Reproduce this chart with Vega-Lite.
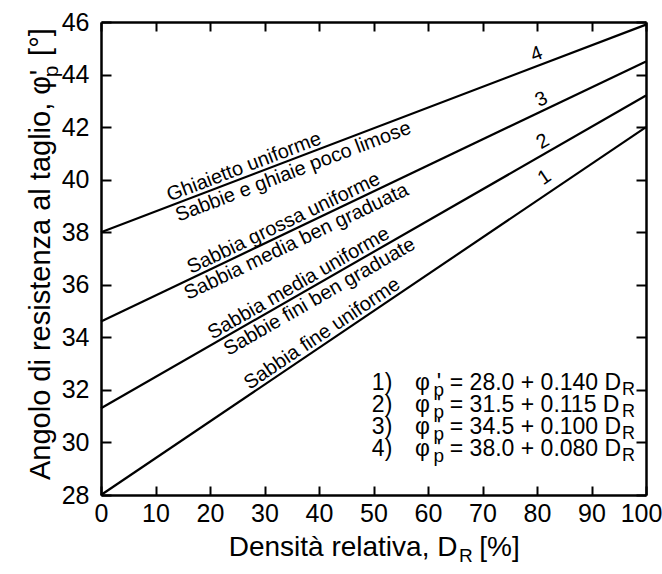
{
  "$schema": "https://vega.github.io/schema/vega-lite/v6.json",
  "width": 545,
  "height": 473,
  "autosize": {"type": "none"},
  "padding": {"left": 101, "top": 22, "right": 16, "bottom": 79},
  "background": "white",
  "view": {"stroke": null},
  "config": {"font": "Liberation Sans", "text": {"font": "Liberation Sans", "color": "black"}},
  "datasets": {
    "lines": [
      {"line": 1, "x": 0, "y": 28.0}, {"line": 1, "x": 100, "y": 42.0},
      {"line": 2, "x": 0, "y": 31.3}, {"line": 2, "x": 100, "y": 43.2},
      {"line": 3, "x": 0, "y": 34.6}, {"line": 3, "x": 100, "y": 44.5},
      {"line": 4, "x": 0, "y": 38.0}, {"line": 4, "x": 100, "y": 45.9}
    ],
    "labels": [
      {"line": 4, "side": "above", "x": 26.9, "y": 40.13, "text": "Ghiaietto uniforme"},
      {"line": 4, "side": "above", "x": 80.55, "y": 44.42, "text": "4"},
      {"line": 4, "side": "below", "x": 34.5, "y": 40.73, "text": "Sabbie e ghiaie poco limose"},
      {"line": 3, "side": "above", "x": 34.3, "y": 38.0, "text": "Sabbia grossa uniforme"},
      {"line": 3, "side": "above", "x": 81.6, "y": 42.71, "text": "3"},
      {"line": 3, "side": "below", "x": 34.9, "y": 38.055, "text": "Sabbia media ben graduata"},
      {"line": 2, "side": "above", "x": 37.2, "y": 35.727, "text": "Sabbia media uniforme"},
      {"line": 2, "side": "above", "x": 82.0, "y": 41.12, "text": "2"},
      {"line": 2, "side": "below", "x": 39.0, "y": 35.941, "text": "Sabbie fini ben graduate"},
      {"line": 1, "side": "above", "x": 41.6, "y": 33.824, "text": "Sabbia fine uniforme"},
      {"line": 1, "side": "above", "x": 82.4, "y": 39.77, "text": "1"}
    ],
    "eqs": [
      {"row": 1, "y": 32.0, "num": "1)", "eq": "= 28.0 + 0.140 D"},
      {"row": 2, "y": 31.16, "num": "2)", "eq": "= 31.5 + 0.115 D"},
      {"row": 3, "y": 30.32, "num": "3)", "eq": "= 34.5 + 0.100 D"},
      {"row": 4, "y": 29.49, "num": "4)", "eq": "= 38.0 + 0.080 D"}
    ]
  },
  "resolve": {"axis": {"x": "independent", "y": "independent"}},
  "layer": [
    {
      "data": {"name": "lines"},
      "mark": {"type": "line", "color": "black", "strokeWidth": 2.2},
      "encoding": {
        "x": {"field": "x", "type": "quantitative", "scale": {"domain": [0, 100], "nice": false, "zero": false},
          "axis": {"orient": "bottom", "values": [0, 10, 20, 30, 40, 50, 60, 70, 80, 90, 100], "tickSize": -9, "tickWidth": 2, "tickColor": "black", "domainColor": "black", "domainWidth": 2.5, "labelFont": "Liberation Sans", "labelFontSize": 25, "labelColor": "black", "labelPadding": 15, "labelFlush": false, "labelOverlap": false, "labelOffset": {"condition": {"test": "datum.value === 100", "value": -5}, "value": 0}, "grid": false, "title": null}},
        "y": {"field": "y", "type": "quantitative", "scale": {"domain": [28, 46], "nice": false, "zero": false},
          "axis": {"orient": "left", "values": [28, 30, 32, 34, 36, 38, 40, 42, 44, 46], "tickSize": -10, "tickWidth": 2, "tickColor": "black", "domainColor": "black", "domainWidth": 2.5, "labelFont": "Liberation Sans", "labelFontSize": 25, "labelColor": "black", "labelPadding": 22, "labelFlush": false, "labelOverlap": false, "grid": false, "title": null}},
        "detail": {"field": "line", "type": "nominal"}
      }
    },
    {
      "data": {"name": "lines"},
      "mark": {"type": "line", "color": "black", "strokeOpacity": 0},
      "encoding": {
        "x": {"field": "x", "type": "quantitative", "scale": {"domain": [0, 100], "nice": false, "zero": false},
          "axis": {"orient": "top", "values": [0, 10, 20, 30, 40, 50, 60, 70, 80, 90, 100], "tickSize": -9, "tickWidth": 2, "tickColor": "black", "domainColor": "black", "domainWidth": 2.5, "labels": false, "grid": false, "title": null}},
        "y": {"field": "y", "type": "quantitative", "scale": {"domain": [28, 46], "nice": false, "zero": false},
          "axis": {"orient": "right", "values": [28, 30, 32, 34, 36, 38, 40, 42, 44, 46], "tickSize": -10, "tickWidth": 2, "tickColor": "black", "domainColor": "black", "domainWidth": 2.5, "labels": false, "grid": false, "title": null}},
        "detail": {"field": "line", "type": "nominal"}
      }
    },
    {
      "data": {"name": "labels"},
      "transform": [{"filter": "datum.line === 4 && datum.side === 'above'"}],
      "mark": {"type": "text", "angle": 339.15, "align": "center", "baseline": "alphabetic", "dy": -4, "fontSize": 20},
      "encoding": {
        "x": {"field": "x", "type": "quantitative", "scale": {"domain": [0, 100], "nice": false, "zero": false}, "axis": null},
        "y": {"field": "y", "type": "quantitative", "scale": {"domain": [28, 46], "nice": false, "zero": false}, "axis": null},
        "text": {"field": "text"}
      }
    },
    {
      "data": {"name": "labels"},
      "transform": [{"filter": "datum.line === 4 && datum.side === 'below'"}],
      "mark": {"type": "text", "angle": 339.15, "align": "center", "baseline": "top", "dy": 2, "fontSize": 20},
      "encoding": {
        "x": {"field": "x", "type": "quantitative", "scale": {"domain": [0, 100], "nice": false, "zero": false}, "axis": null},
        "y": {"field": "y", "type": "quantitative", "scale": {"domain": [28, 46], "nice": false, "zero": false}, "axis": null},
        "text": {"field": "text"}
      }
    },
    {
      "data": {"name": "labels"},
      "transform": [{"filter": "datum.line === 3 && datum.side === 'above'"}],
      "mark": {"type": "text", "angle": 334.5, "align": "center", "baseline": "alphabetic", "dy": -4, "fontSize": 20},
      "encoding": {
        "x": {"field": "x", "type": "quantitative", "scale": {"domain": [0, 100], "nice": false, "zero": false}, "axis": null},
        "y": {"field": "y", "type": "quantitative", "scale": {"domain": [28, 46], "nice": false, "zero": false}, "axis": null},
        "text": {"field": "text"}
      }
    },
    {
      "data": {"name": "labels"},
      "transform": [{"filter": "datum.line === 3 && datum.side === 'below'"}],
      "mark": {"type": "text", "angle": 334.5, "align": "center", "baseline": "top", "dy": 2, "fontSize": 20},
      "encoding": {
        "x": {"field": "x", "type": "quantitative", "scale": {"domain": [0, 100], "nice": false, "zero": false}, "axis": null},
        "y": {"field": "y", "type": "quantitative", "scale": {"domain": [28, 46], "nice": false, "zero": false}, "axis": null},
        "text": {"field": "text"}
      }
    },
    {
      "data": {"name": "labels"},
      "transform": [{"filter": "datum.line === 2 && datum.side === 'above'"}],
      "mark": {"type": "text", "angle": 330.15, "align": "center", "baseline": "alphabetic", "dy": -4, "fontSize": 20},
      "encoding": {
        "x": {"field": "x", "type": "quantitative", "scale": {"domain": [0, 100], "nice": false, "zero": false}, "axis": null},
        "y": {"field": "y", "type": "quantitative", "scale": {"domain": [28, 46], "nice": false, "zero": false}, "axis": null},
        "text": {"field": "text"}
      }
    },
    {
      "data": {"name": "labels"},
      "transform": [{"filter": "datum.line === 2 && datum.side === 'below'"}],
      "mark": {"type": "text", "angle": 330.15, "align": "center", "baseline": "top", "dy": 2, "fontSize": 20},
      "encoding": {
        "x": {"field": "x", "type": "quantitative", "scale": {"domain": [0, 100], "nice": false, "zero": false}, "axis": null},
        "y": {"field": "y", "type": "quantitative", "scale": {"domain": [28, 46], "nice": false, "zero": false}, "axis": null},
        "text": {"field": "text"}
      }
    },
    {
      "data": {"name": "labels"},
      "transform": [{"filter": "datum.line === 1 && datum.side === 'above'"}],
      "mark": {"type": "text", "angle": 326, "align": "center", "baseline": "alphabetic", "dy": -4, "fontSize": 20},
      "encoding": {
        "x": {"field": "x", "type": "quantitative", "scale": {"domain": [0, 100], "nice": false, "zero": false}, "axis": null},
        "y": {"field": "y", "type": "quantitative", "scale": {"domain": [28, 46], "nice": false, "zero": false}, "axis": null},
        "text": {"field": "text"}
      }
    },
    {
      "data": {"name": "eqs"},
      "mark": {"type": "text", "align": "left", "baseline": "alphabetic", "fontSize": 23},
      "encoding": {
        "x": {"datum": 49.7, "type": "quantitative", "scale": {"domain": [0, 100], "nice": false, "zero": false}, "axis": null},
        "y": {"field": "y", "type": "quantitative", "scale": {"domain": [28, 46], "nice": false, "zero": false}, "axis": null},
        "text": {"field": "num"}
      }
    },
    {
      "data": {"name": "eqs"},
      "mark": {"type": "text", "align": "left", "baseline": "alphabetic", "fontSize": 23, "text": "φ"},
      "encoding": {
        "x": {"datum": 57.6, "type": "quantitative", "scale": {"domain": [0, 100], "nice": false, "zero": false}, "axis": null},
        "y": {"field": "y", "type": "quantitative", "scale": {"domain": [28, 46], "nice": false, "zero": false}, "axis": null}
      }
    },
    {
      "data": {"name": "eqs"},
      "mark": {"type": "text", "align": "left", "baseline": "alphabetic", "fontSize": 23, "text": "'"},
      "encoding": {
        "x": {"datum": 61.6, "type": "quantitative", "scale": {"domain": [0, 100], "nice": false, "zero": false}, "axis": null},
        "y": {"field": "y", "type": "quantitative", "scale": {"domain": [28, 46], "nice": false, "zero": false}, "axis": null}
      }
    },
    {
      "data": {"name": "eqs"},
      "mark": {"type": "text", "align": "left", "baseline": "alphabetic", "fontSize": 19, "dy": 6, "text": "p"},
      "encoding": {
        "x": {"datum": 61.0, "type": "quantitative", "scale": {"domain": [0, 100], "nice": false, "zero": false}, "axis": null},
        "y": {"field": "y", "type": "quantitative", "scale": {"domain": [28, 46], "nice": false, "zero": false}, "axis": null}
      }
    },
    {
      "data": {"name": "eqs"},
      "mark": {"type": "text", "align": "left", "baseline": "alphabetic", "fontSize": 23},
      "encoding": {
        "x": {"datum": 64.0, "type": "quantitative", "scale": {"domain": [0, 100], "nice": false, "zero": false}, "axis": null},
        "y": {"field": "y", "type": "quantitative", "scale": {"domain": [28, 46], "nice": false, "zero": false}, "axis": null},
        "text": {"field": "eq"}
      }
    },
    {
      "data": {"name": "eqs"},
      "mark": {"type": "text", "align": "left", "baseline": "alphabetic", "fontSize": 18, "dy": 5, "text": "R"},
      "encoding": {
        "x": {"datum": 95.6, "type": "quantitative", "scale": {"domain": [0, 100], "nice": false, "zero": false}, "axis": null},
        "y": {"field": "y", "type": "quantitative", "scale": {"domain": [28, 46], "nice": false, "zero": false}, "axis": null}
      }
    },
    {
      "data": {"values": [{}]},
      "mark": {"type": "text", "align": "right", "baseline": "alphabetic", "fontSize": 28, "dy": 61, "text": "Densità relativa, D"},
      "encoding": {
        "x": {"datum": 65.4, "type": "quantitative", "scale": {"domain": [0, 100], "nice": false, "zero": false}, "axis": null},
        "y": {"datum": 28, "type": "quantitative", "scale": {"domain": [28, 46], "nice": false, "zero": false}, "axis": null}
      }
    },
    {
      "data": {"values": [{}]},
      "mark": {"type": "text", "align": "left", "baseline": "alphabetic", "fontSize": 19, "dy": 67, "text": "R"},
      "encoding": {
        "x": {"datum": 65.7, "type": "quantitative", "scale": {"domain": [0, 100], "nice": false, "zero": false}, "axis": null},
        "y": {"datum": 28, "type": "quantitative", "scale": {"domain": [28, 46], "nice": false, "zero": false}, "axis": null}
      }
    },
    {
      "data": {"values": [{}]},
      "mark": {"type": "text", "align": "left", "baseline": "alphabetic", "fontSize": 28, "dy": 61, "text": "[%]"},
      "encoding": {
        "x": {"datum": 69.4, "type": "quantitative", "scale": {"domain": [0, 100], "nice": false, "zero": false}, "axis": null},
        "y": {"datum": 28, "type": "quantitative", "scale": {"domain": [28, 46], "nice": false, "zero": false}, "axis": null}
      }
    },
    {
      "data": {"values": [{}]},
      "mark": {"type": "text", "align": "left", "baseline": "alphabetic", "fontSize": 29, "angle": 270, "dy": -51, "text": "Angolo di resistenza al taglio, φ"},
      "encoding": {
        "x": {"datum": 0, "type": "quantitative", "scale": {"domain": [0, 100], "nice": false, "zero": false}, "axis": null},
        "y": {"datum": 28.57, "type": "quantitative", "scale": {"domain": [28, 46], "nice": false, "zero": false}, "axis": null}
      }
    },
    {
      "data": {"values": [{}]},
      "mark": {"type": "text", "align": "left", "baseline": "alphabetic", "fontSize": 29, "angle": 270, "dy": -51, "text": "'"},
      "encoding": {
        "x": {"datum": 0, "type": "quantitative", "scale": {"domain": [0, 100], "nice": false, "zero": false}, "axis": null},
        "y": {"datum": 43.97, "type": "quantitative", "scale": {"domain": [28, 46], "nice": false, "zero": false}, "axis": null}
      }
    },
    {
      "data": {"values": [{}]},
      "mark": {"type": "text", "align": "left", "baseline": "alphabetic", "fontSize": 21, "angle": 270, "dy": -43, "text": "p"},
      "encoding": {
        "x": {"datum": 0, "type": "quantitative", "scale": {"domain": [0, 100], "nice": false, "zero": false}, "axis": null},
        "y": {"datum": 43.9, "type": "quantitative", "scale": {"domain": [28, 46], "nice": false, "zero": false}, "axis": null}
      }
    },
    {
      "data": {"values": [{}]},
      "mark": {"type": "text", "align": "left", "baseline": "alphabetic", "fontSize": 29, "angle": 270, "dy": -51, "text": "[°]"},
      "encoding": {
        "x": {"datum": 0, "type": "quantitative", "scale": {"domain": [0, 100], "nice": false, "zero": false}, "axis": null},
        "y": {"datum": 44.71, "type": "quantitative", "scale": {"domain": [28, 46], "nice": false, "zero": false}, "axis": null}
      }
    }
  ]
}
